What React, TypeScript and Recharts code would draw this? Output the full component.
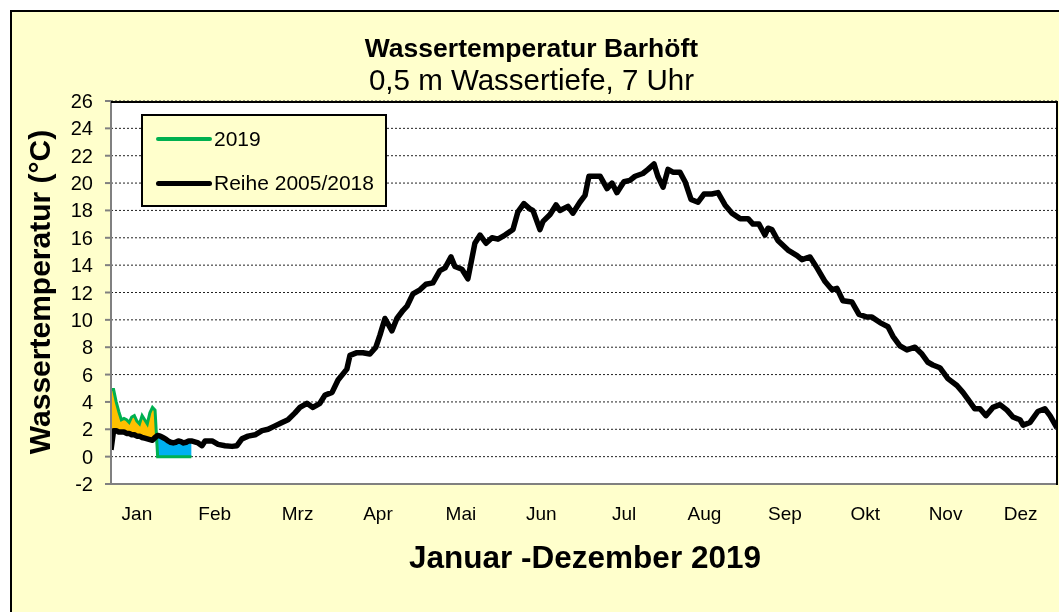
import React from 'react';
import { ComposedChart, Line, Area, XAxis, YAxis, CartesianGrid } from 'recharts';

// January: daily values (day index 0 = 1 Jan)
const janDays = [0, 1, 2, 3, 4, 5, 6, 7, 8, 9, 10, 11, 12, 13, 14, 15, 16, 17, 18, 19, 20, 21, 22, 23, 24, 25, 26, 27, 28, 29, 30, 31];
const jan2019 = [4.9, 4.9, 4.0, 3.3, 2.7, 2.8, 2.7, 2.5, 2.9, 3.0, 2.6, 2.4, 3.0, 2.7, 2.4, 3.2, 3.6, 3.4, 0, 0, 0, 0, 0, 0, 0, 0, 0, 0, 0, 0, 0, 0];
const janAvg = [0.5, 1.9, 1.9, 1.8, 1.8, 1.8, 1.7, 1.7, 1.6, 1.6, 1.5, 1.5, 1.4, 1.35, 1.3, 1.25, 1.2, 1.4, 1.55, 1.5, 1.4, 1.3, 1.15, 1.05, 1.0, 1.05, 1.15, 1.1, 1.0, 1.05, 1.15, 1.15];

// Long-term mean 2005/2018 after January
const avgDays = [33.6, 35.1, 36.3, 39, 41.3, 44, 46.7, 48.6, 50.5, 52.9, 55.6, 58.3, 60.6, 63.3, 66, 68.3, 71, 72.9, 75.6, 77.9, 80.6, 82.6, 85.3, 87.6, 91, 92.2, 94.9, 97.2, 99.9, 102.2, 103.8, 105.7, 108.4, 110.3, 112.7, 114.2, 116.5, 119.2, 121.5, 124.2, 126.9, 128.9, 131.2, 132.7, 135.4, 137.7, 140.4, 142.4, 144.7, 147, 149.3, 152, 155.1, 157, 159.3, 161.7, 162.8, 165.5, 166.7, 169.4, 171.7, 173.2, 176.3, 178.2, 180.9, 182.9, 184.4, 188.7, 191.4, 193.3, 195.2, 197.9, 200.2, 202.2, 205.2, 207.2, 209.5, 211, 213, 214.9, 216.8, 219.5, 221.5, 223.8, 226.5, 228.8, 231.8, 234.2, 236.9, 239.6, 242.7, 245.8, 247.7, 250, 252.3, 253.5, 255, 257.3, 261.2, 264.7, 266.6, 269.7, 272.4, 275.5, 278.2, 280.1, 282.4, 285.9, 288.6, 291.7, 293.6, 296.7, 299.8, 301.7, 304.4, 307.1, 310.2, 312.9, 315.2, 317.1, 319.8, 322.9, 326.4, 328.7, 330.6, 333.3, 335.3, 337.6, 340.3, 343, 345.7, 348, 350.7, 351.9, 354.6, 357.6, 360.3, 362.3, 365];
const avgTemps = [1.0, 0.8, 1.15, 1.15, 0.9, 0.8, 0.75, 0.8, 1.3, 1.5, 1.6, 1.9, 2.0, 2.25, 2.5, 2.7, 3.2, 3.6, 3.9, 3.6, 3.9, 4.5, 4.7, 5.6, 6.4, 7.4, 7.6, 7.6, 7.5, 8.0, 8.9, 10.1, 9.2, 10.1, 10.7, 11.0, 11.9, 12.2, 12.6, 12.7, 13.6, 13.8, 14.6, 13.9, 13.7, 13.0, 15.6, 16.2, 15.6, 16.0, 15.9, 16.2, 16.6, 17.9, 18.5, 18.1, 18.0, 16.6, 17.2, 17.7, 18.4, 18.0, 18.3, 17.8, 18.6, 19.1, 20.5, 20.5, 19.6, 20.0, 19.3, 20.1, 20.2, 20.5, 20.7, 21.0, 21.4, 20.5, 19.7, 21.0, 20.8, 20.8, 20.1, 18.8, 18.6, 19.2, 19.2, 19.3, 18.4, 17.8, 17.4, 17.4, 17.0, 17.0, 16.2, 16.7, 16.6, 15.8, 15.1, 14.7, 14.4, 14.6, 13.8, 12.8, 12.2, 12.3, 11.4, 11.3, 10.4, 10.2, 10.2, 9.8, 9.5, 8.8, 8.1, 7.8, 8.0, 7.5, 6.9, 6.7, 6.5, 5.7, 5.2, 4.7, 4.2, 3.5, 3.5, 3.0, 3.6, 3.8, 3.4, 2.9, 2.7, 2.3, 2.5, 3.3, 3.5, 3.0, 2.1];

const monthLabels = ['Jan', 'Feb', 'Mrz', 'Apr', 'Mai', 'Jun', 'Jul', 'Aug', 'Sep', 'Okt', 'Nov', 'Dez'];
const monthTickDays = [10, 40, 72, 103, 135, 166, 198, 229, 260, 291, 322, 351];
const yTicks = [-2, 0, 2, 4, 6, 8, 10, 12, 14, 16, 18, 20, 22, 24, 26];

const FONT = "'Liberation Sans', Arial, sans-serif";

const data: any[] = [
  ...janDays.map((d, i) => {
    const a = janAvg[i];
    const v = jan2019[i];
    const prevV = i > 0 ? jan2019[i - 1] : null;
    const prevA = i > 0 ? janAvg[i - 1] : null;
    const nextV = i < janDays.length - 1 ? jan2019[i + 1] : null;
    const nextA = i < janDays.length - 1 ? janAvg[i + 1] : null;
    const aboveNb = (prevV !== null && prevV >= (prevA as number)) || (nextV !== null && nextV >= (nextA as number));
    const belowNb = (prevV !== null && prevV < (prevA as number)) || (nextV !== null && nextV < (nextA as number));
    return {
      day: d,
      avg: a,
      y2019: v,
      warm: v >= a ? [a, v] : aboveNb ? [a, a] : null,
      cold: v < a ? [v, a] : belowNb ? [a, a] : null,
    };
  }),
  ...avgDays.map((d, i) => ({ day: d, avg: avgTemps[i] })),
];

const XTick = (props: any) => {
  const { x, y, payload } = props;
  const idx = monthTickDays.indexOf(payload.value);
  return (
    <text x={x} y={y + 29} textAnchor="middle" dominantBaseline="central" fontFamily={FONT} fontSize={19} fill="#000">
      {monthLabels[idx]}
    </text>
  );
};

const YTick = (props: any) => {
  const { x, y, payload } = props;
  return (
    <text x={x} y={y} textAnchor="end" dominantBaseline="central" fontFamily={FONT} fontSize={20} fill="#000">
      {payload.value}
    </text>
  );
};

export default function App() {
  return (
    <div style={{ position: 'fixed', left: 0, top: 0, width: 1059, height: 612, overflow: 'hidden', fontFamily: FONT }}>
      <div style={{ position: 'absolute', left: 10, top: 10, width: 1100, height: 700, border: '2px solid #000', background: '#FFFFCC', boxSizing: 'border-box' }} />
      <div style={{ position: 'absolute', left: 2, top: 33, width: 1059, textAlign: 'center', fontSize: 26.5, fontWeight: 'bold', lineHeight: '30px' }}>Wassertemperatur Barhöft</div>
      <div style={{ position: 'absolute', left: 2, top: 65, width: 1059, textAlign: 'center', fontSize: 29.5, lineHeight: '30px' }}>0,5 m Wassertiefe, 7 Uhr</div>
      <div style={{ position: 'absolute', left: 40, top: 292, transform: 'translate(-50%, -50%) rotate(-90deg)', whiteSpace: 'nowrap', fontSize: 30, fontWeight: 'bold', lineHeight: '34px' }}>Wassertemperatur (°C)</div>
      <div style={{ position: 'absolute', left: 585, top: 557, transform: 'translate(-50%, -50%)', whiteSpace: 'nowrap', fontSize: 31.5, fontWeight: 'bold', lineHeight: '34px' }}>Januar -Dezember 2019</div>
      <div style={{ position: 'absolute', left: 0, top: 0 }}>
        <ComposedChart width={1059} height={612} data={data} margin={{ top: 101, right: 2, bottom: 88, left: 0 }}>
          <CartesianGrid vertical={false} stroke="#222" strokeDasharray="2 2" fill="#FFFFFF" fillOpacity={1} />
          <XAxis
            dataKey="day"
            type="number"
            domain={[0, 365]}
            ticks={monthTickDays}
            interval={0}
            allowDataOverflow
            tickLine={false}
            tickSize={0}
            tickMargin={0}
            height={40}
            axisLine={{ stroke: '#808080', strokeWidth: 2 }}
            tick={<XTick />}
          />
          <YAxis
            type="number"
            domain={[-2, 26]}
            ticks={yTicks}
            interval={0}
            width={111}
            tickSize={6}
            tickMargin={12}
            tickLine={{ stroke: '#808080', strokeWidth: 2 }}
            axisLine={{ stroke: '#808080', strokeWidth: 2 }}
            tick={<YTick />}
          />
          <Area dataKey="warm" type="linear" stroke="none" fill="#FFC000" fillOpacity={1} isAnimationActive={false} connectNulls={false} />
          <Area dataKey="cold" type="linear" stroke="none" fill="#00B0F0" fillOpacity={1} isAnimationActive={false} connectNulls={false} />
          <Line dataKey="y2019" type="linear" stroke="#00B050" strokeWidth={3} dot={false} isAnimationActive={false} connectNulls={false} />
          <Line dataKey="avg" type="linear" stroke="#000" strokeWidth={5.5} strokeLinejoin="round" dot={false} isAnimationActive={false} connectNulls />
        </ComposedChart>
      </div>
      <div style={{ position: 'absolute', left: 111, top: 101, width: 947, height: 384, borderTop: '2px solid #000', borderRight: '2px solid #000', boxSizing: 'border-box', pointerEvents: 'none' }} />
      <div style={{ position: 'absolute', left: 141, top: 114, width: 246, height: 93, border: '2px solid #000', background: '#FFFFCC', boxSizing: 'border-box' }}>
        <div style={{ position: 'absolute', left: 13, top: 21, width: 56, height: 4, background: '#00B050', borderRadius: 2 }} />
        <div style={{ position: 'absolute', left: 71, top: 10, fontSize: 21, lineHeight: '26px' }}>2019</div>
        <div style={{ position: 'absolute', left: 13, top: 65, width: 56, height: 5, background: '#000', borderRadius: 3 }} />
        <div style={{ position: 'absolute', left: 71, top: 54, fontSize: 21, lineHeight: '26px' }}>Reihe 2005/2018</div>
      </div>
    </div>
  );
}
